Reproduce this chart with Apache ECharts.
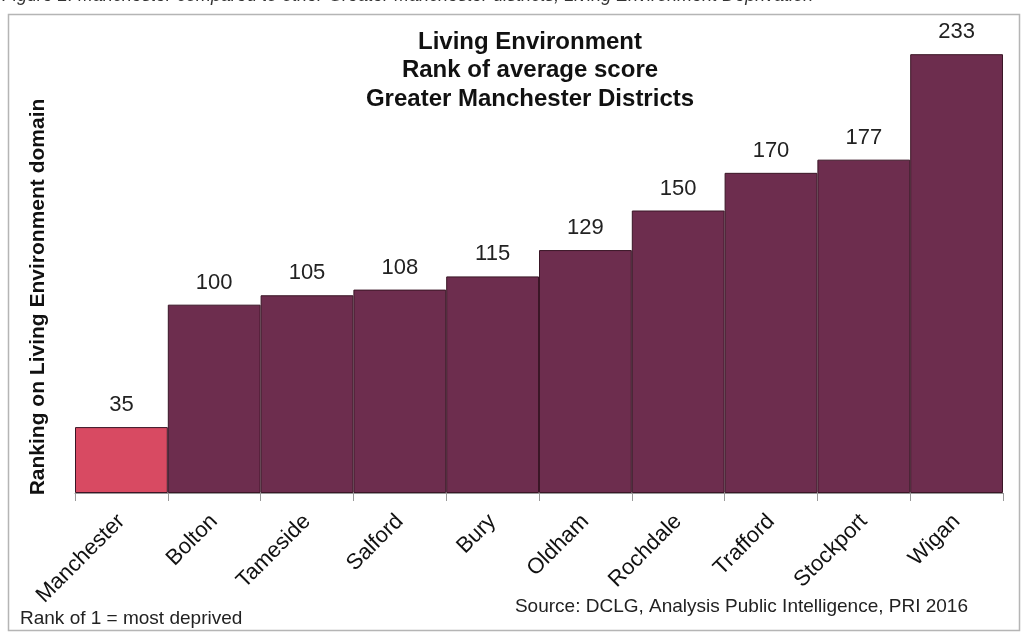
<!DOCTYPE html>
<html><head><meta charset="utf-8">
<script src="https://cdn.jsdelivr.net/npm/echarts@6/dist/echarts.min.js"></script>
<style>html,body{margin:0;padding:0;background:#fff}#c{width:1023px;height:638px}</style>
</head><body><div id="c"></div>
<script>
const categories = ['Manchester','Bolton','Tameside','Salford','Bury','Oldham','Rochdale','Trafford','Stockport','Wigan'];
const ranks = [35,100,105,108,115,129,150,170,177,233];
const highlight = 'Manchester';
const titleLines = ['Living Environment','Rank of average score','Greater Manchester Districts'];

const chart = echarts.init(document.getElementById('c'), null, {renderer:'canvas'});
const FONT = '"Liberation Sans", Arial, sans-serif';
chart.setOption({
  animation:false,
  backgroundColor:'#fff',
  grid:{left:75, right:20, top:41, bottom:145},
  xAxis:{type:'category', data:categories,
    axisLine:{show:true, lineStyle:{color:'#999', width:1}},
    axisTick:{show:true, alignWithLabel:false, length:8, lineStyle:{color:'#999'}},
    axisLabel:{rotate:45, interval:0, fontFamily:FONT, fontSize:22, color:'#111', margin:25}},
  yAxis:{type:'value', min:0, max:240, show:false, splitLine:{show:false}},
  series:[{type:'bar', barCategoryGap:'0%',
    data:ranks.map((v,i)=>({value:v, itemStyle:{color: categories[i]===highlight ? '#d84a62' : '#6d2d4e'}})),
    itemStyle:{borderColor:'#3a1626', borderWidth:1},
    label:{show:true, position:'top', distance:11, fontFamily:FONT, fontSize:22, color:'#222'}}],
  graphic:[
    {type:'rect', shape:{x:8.5,y:14.5,width:1011,height:616}, style:{fill:'none', stroke:'#b5b5b5', lineWidth:1.5}, z:-1},
    {type:'text', x:2, y:-13, style:{text:'Figure 2: Manchester compared to other Greater Manchester districts, Living Environment Deprivation', font:'italic 18px '+FONT, fill:'#333'}},
    {type:'text', x:530, y:28, style:{text:titleLines.join('\n'), font:'bold 24px '+FONT, fill:'#111', textAlign:'center', lineHeight:28.5}},
    {type:'text', x:38, y:297, rotation:Math.PI/2, style:{text:'Ranking on Living Environment domain', font:'bold 21px '+FONT, fill:'#111', textAlign:'center', textVerticalAlign:'middle'}},
    {type:'text', x:20, y:609, style:{text:'Rank of 1 = most deprived', font:'19px '+FONT, fill:'#222'}},
    {type:'text', x:968, y:597, style:{text:'Source: DCLG, Analysis Public Intelligence, PRI 2016', font:'19px '+FONT, fill:'#222', textAlign:'right'}}
  ]
});
</script></body></html>
